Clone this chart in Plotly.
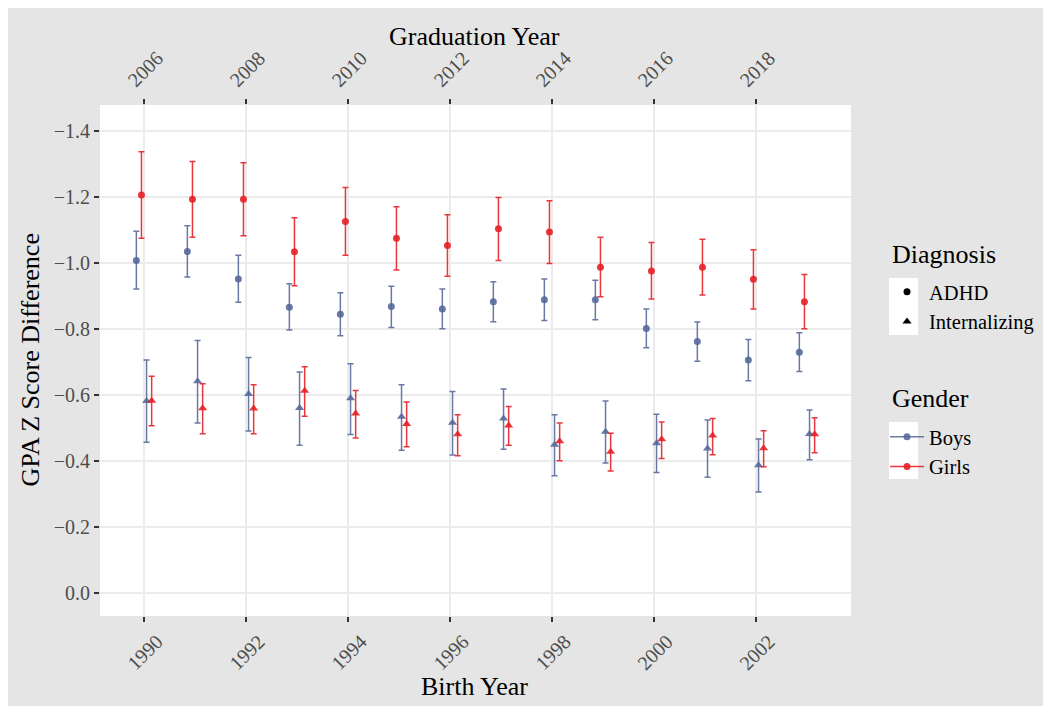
import plotly.graph_objects as go

# ---------------- data ----------------
birth_years = list(range(1990, 2004))
grad_tick_years = [1990, 1992, 1994, 1996, 1998, 2000, 2002]
grad_tick_labels = ["2006", "2008", "2010", "2012", "2014", "2016", "2018"]
y_tick_vals = [-1.4, -1.2, -1.0, -0.8, -0.6, -0.4, -0.2, 0.0]
y_tick_labels = ["\u22121.4", "\u22121.2", "\u22121.0", "\u22120.8", "\u22120.6", "\u22120.4", "\u22120.2", "0.0"]

adhd_boys = [-1.008, -1.035, -0.952, -0.866, -0.845, -0.868, -0.861, -0.883, -0.889, -0.889, -0.802, -0.762, -0.706, -0.730]
adhd_boys_hi = [-1.096, -1.113, -1.024, -0.937, -0.910, -0.930, -0.921, -0.943, -0.952, -0.948, -0.861, -0.821, -0.768, -0.789]
adhd_boys_lo = [-0.921, -0.958, -0.881, -0.797, -0.780, -0.805, -0.801, -0.822, -0.826, -0.828, -0.743, -0.702, -0.643, -0.671]

adhd_girls = [-1.206, -1.193, -1.193, -1.034, -1.126, -1.075, -1.053, -1.104, -1.094, -0.987, -0.976, -0.987, -0.951, -0.883]
adhd_girls_hi = [-1.337, -1.308, -1.304, -1.137, -1.229, -1.171, -1.146, -1.199, -1.189, -1.078, -1.062, -1.072, -1.040, -0.965]
adhd_girls_lo = [-1.075, -1.078, -1.083, -0.931, -1.024, -0.979, -0.960, -1.008, -0.999, -0.898, -0.891, -0.903, -0.861, -0.801]

int_boys = [-0.582, -0.642, -0.603, -0.561, -0.590, -0.534, -0.516, -0.529, -0.449, -0.489, -0.454, -0.438, -0.387, -0.482]
int_boys_hi = [-0.706, -0.765, -0.714, -0.670, -0.695, -0.631, -0.611, -0.618, -0.540, -0.582, -0.542, -0.524, -0.467, -0.555]
int_boys_lo = [-0.457, -0.515, -0.491, -0.448, -0.480, -0.433, -0.418, -0.436, -0.355, -0.394, -0.365, -0.351, -0.306, -0.404]

int_girls = [-0.583, -0.560, -0.559, -0.613, -0.544, -0.512, -0.481, -0.508, -0.460, -0.428, -0.466, -0.477, -0.439, -0.481]
int_girls_hi = [-0.657, -0.634, -0.631, -0.686, -0.614, -0.579, -0.540, -0.565, -0.515, -0.484, -0.518, -0.529, -0.492, -0.531]
int_girls_lo = [-0.507, -0.483, -0.483, -0.536, -0.470, -0.443, -0.416, -0.448, -0.401, -0.370, -0.408, -0.419, -0.383, -0.425]

# ---------------- style ----------------
BOYS = "rgba(84,102,152,0.88)"
GIRLS = "rgba(230,28,34,0.88)"
FONT = "Liberation Serif"
TICK_GRAY = "#4d4d4d"

series = [
    (adhd_boys, adhd_boys_hi, adhd_boys_lo, -0.15, BOYS, "circle", 7),
    (adhd_girls, adhd_girls_hi, adhd_girls_lo, -0.05, GIRLS, "circle", 7),
    (int_boys, int_boys_hi, int_boys_lo, 0.05, BOYS, "triangle-up", 8),
    (int_girls, int_girls_hi, int_girls_lo, 0.15, GIRLS, "triangle-up", 8),
]

fig = go.Figure()
for vals, hi, lo, off, col, sym, sz in series:
    xs = [b + off for b in birth_years]
    fig.add_trace(go.Scatter(
        x=xs, y=vals, mode="markers",
        marker=dict(color=col, symbol=sym, size=sz, line=dict(width=0)),
        error_y=dict(type="data", symmetric=False,
                     array=[l - v for v, l in zip(vals, lo)],
                     arrayminus=[v - h for v, h in zip(vals, hi)],
                     color=col, thickness=1.5, width=3),
        showlegend=False, hoverinfo="skip",
    ))

# invisible trace on the top axis so it is drawn
fig.add_trace(go.Scatter(x=[None], y=[None], xaxis="x2", showlegend=False))

# legend entries
fig.add_trace(go.Scatter(x=[None], y=[None], mode="markers", name="ADHD",
                         marker=dict(color="black", symbol="circle", size=7), legend="legend"))
fig.add_trace(go.Scatter(x=[None], y=[None], mode="markers", name="Internalizing",
                         marker=dict(color="black", symbol="triangle-up", size=8), legend="legend"))
fig.add_trace(go.Scatter(x=[None], y=[None], mode="lines+markers", name="Boys",
                         marker=dict(color=BOYS, size=7), line=dict(color=BOYS, width=1.5), legend="legend2"))
fig.add_trace(go.Scatter(x=[None], y=[None], mode="lines+markers", name="Girls",
                         marker=dict(color=GIRLS, size=7), line=dict(color=GIRLS, width=1.5), legend="legend2"))

xrange = [1989.137, 2003.863]
axis_common = dict(
    range=xrange, tickmode="array", tickvals=grad_tick_years,
    tickangle=-45, ticks="outside", ticklen=5, tickwidth=1.5, tickcolor="#333333",
    tickfont=dict(family=FONT, size=20, color=TICK_GRAY),
    showline=False, zeroline=False, automargin=False,
)

title_font = dict(family=FONT, size=26, color="black")

fig.update_layout(
    width=1043, height=698,
    margin=dict(l=92, r=200, t=97, b=90),
    paper_bgcolor="#e5e5e5", plot_bgcolor="white",
    font=dict(family=FONT, color="black"),
    xaxis=dict(**axis_common, ticktext=[str(v) for v in grad_tick_years],
               ticklabelshift=13,
               showgrid=True, gridcolor="#ebebeb", gridwidth=1.8),
    xaxis2=dict(**axis_common, ticktext=grad_tick_labels, overlaying="x", side="top",
                ticklabelshift=-15, showgrid=False),
    yaxis=dict(range=[0.0697, -1.479], tickmode="array", tickvals=y_tick_vals, ticktext=y_tick_labels,
               ticks="outside", ticklen=5, tickwidth=1.5, tickcolor="#333333",
               tickfont=dict(family=FONT, size=20, color=TICK_GRAY), automargin=False,
               showgrid=True, gridcolor="#ebebeb", gridwidth=1.8, zeroline=False, showline=False),
    legend=dict(font=dict(family=FONT, size=20.5), x=1.0453, xanchor="left", y=0.6732, yanchor="top",
                bgcolor="rgba(0,0,0,0)", itemwidth=34, tracegroupgap=0),
    legend2=dict(font=dict(family=FONT, size=20.5), x=1.0453, xanchor="left", y=0.3894, yanchor="top",
                 bgcolor="rgba(0,0,0,0)", itemwidth=34, tracegroupgap=0),
    annotations=[
        dict(text="Graduation Year", xref="paper", yref="paper", x=0.4993, y=1.135,
             xanchor="center", yanchor="middle", showarrow=False, font=title_font),
        dict(text="Birth Year", xref="paper", yref="paper", x=0.4993, y=-0.137,
             xanchor="center", yanchor="middle", showarrow=False, font=title_font),
        dict(text="GPA Z Score Difference", xref="paper", yref="paper", x=-0.0932, y=0.5,
             xanchor="center", yanchor="middle", textangle=-90, showarrow=False, font=title_font),
        dict(text="Diagnosis", xref="paper", yref="paper", x=1.052, y=0.7065,
             xanchor="left", yanchor="middle", showarrow=False, font=title_font),
        dict(text="Gender", xref="paper", yref="paper", x=1.052, y=0.4266,
             xanchor="left", yanchor="middle", showarrow=False, font=title_font),
    ],
    shapes=[
        dict(type="rect", xref="paper", yref="paper", x0=1.0506, x1=1.0892, y0=0.5499, y1=0.6614,
             fillcolor="white", line=dict(width=0), layer="below"),
        dict(type="rect", xref="paper", yref="paper", x0=1.0506, x1=1.0892, y0=0.2681, y1=0.3796,
             fillcolor="white", line=dict(width=0), layer="below"),
    ],
)

fig.write_html("out.html")
